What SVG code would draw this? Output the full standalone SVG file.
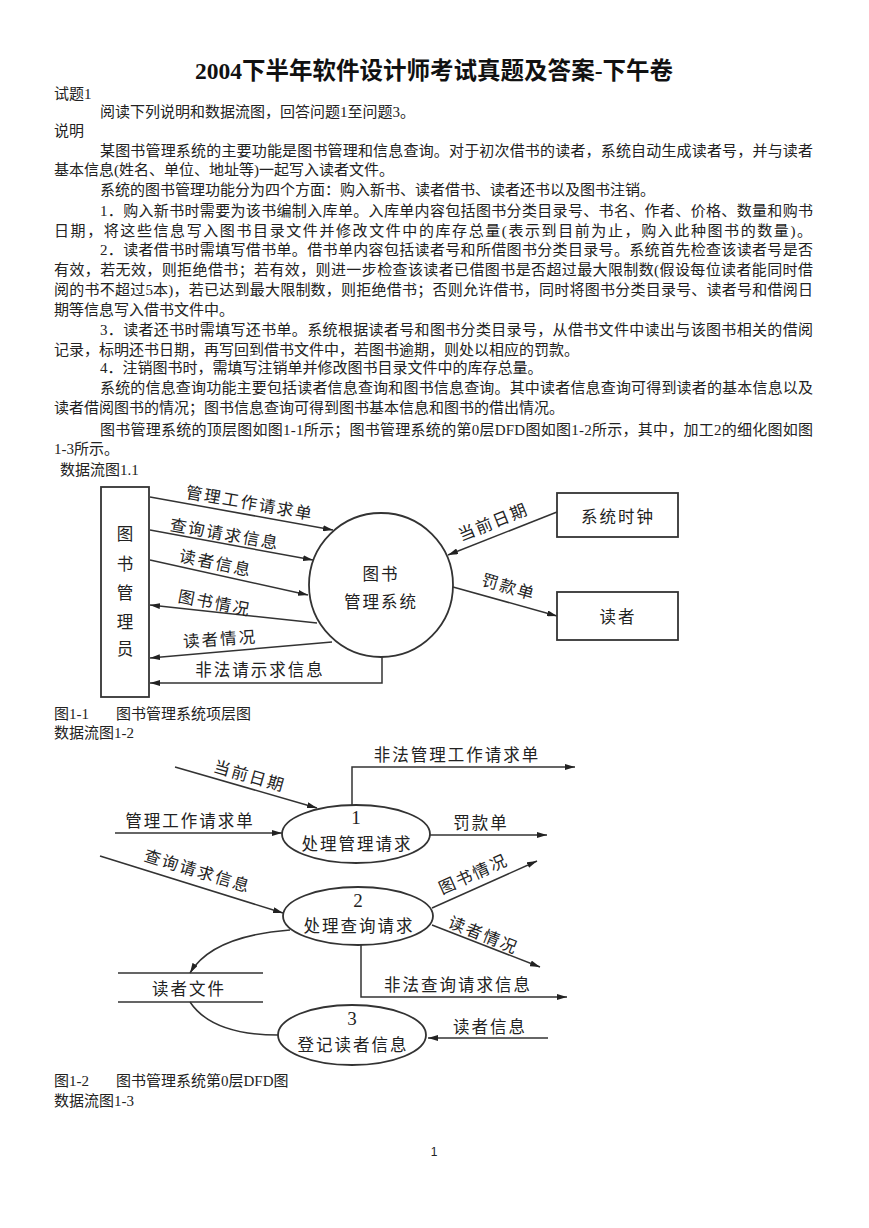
<svg xmlns="http://www.w3.org/2000/svg" width="869" height="1228" viewBox="0 0 869 1228">
<style>
.bg{fill:#fff}
.body{font-family:"Liberation Serif","Noto Sans CJK SC",serif;font-size:15px;fill:#222}
.title{font-family:"Liberation Serif","Noto Sans CJK SC",serif;font-size:24px;font-weight:bold;fill:#111}
.lbl{font-family:"Noto Sans CJK SC",sans-serif;font-size:16.5px;letter-spacing:2px;fill:#222;text-anchor:middle;dominant-baseline:central}
.num{font-family:"Liberation Serif",serif;font-size:19px;fill:#222;text-anchor:middle;dominant-baseline:central}
.ln{fill:none;stroke:#333;stroke-width:1.5}
.box{fill:#fff;stroke:#333;stroke-width:1.8}
.pg{font-family:"Liberation Sans",sans-serif;font-size:12px;fill:#222;text-anchor:middle}
</style>
<defs>
<marker id="ah" viewBox="0 0 10 6" refX="10" refY="3" markerWidth="10" markerHeight="6" markerUnits="userSpaceOnUse" orient="auto">
<path d="M0,0 L10,3 L0,6 z" fill="#222"/>
</marker>
</defs>
<rect class="bg" x="0" y="0" width="869" height="1228"/>

<g id="page-text">
<text class="title" x="195" y="79" textLength="478" lengthAdjust="spacingAndGlyphs">2004下半年软件设计师考试真题及答案-下午卷</text>
<text class="body" x="54" y="99">试题1</text>
<text class="body" x="100" y="117">阅读下列说明和数据流图，回答问题1至问题3。</text>
<text class="body" x="54" y="136">说明</text>
<text class="body" x="100" y="156" textLength="713" lengthAdjust="spacing">某图书管理系统的主要功能是图书管理和信息查询。对于初次借书的读者，系统自动生成读者号，并与读者</text>
<text class="body" x="54" y="175">基本信息(姓名、单位、地址等)一起写入读者文件。</text>
<text class="body" x="100" y="195">系统的图书管理功能分为四个方面：购入新书、读者借书、读者还书以及图书注销。</text>
<text class="body" x="100" y="216" textLength="713" lengthAdjust="spacing">1．购入新书时需要为该书编制入库单。入库单内容包括图书分类目录号、书名、作者、价格、数量和购书</text>
<text class="body" x="54" y="236" textLength="758" lengthAdjust="spacing">日期，将这些信息写入图书目录文件并修改文件中的库存总量(表示到目前为止，购入此种图书的数量)。</text>
<text class="body" x="100" y="255" textLength="713" lengthAdjust="spacing">2．读者借书时需填写借书单。借书单内容包括读者号和所借图书分类目录号。系统首先检查该读者号是否</text>
<text class="body" x="54" y="275" textLength="759" lengthAdjust="spacing">有效，若无效，则拒绝借书；若有效，则进一步检查该读者已借图书是否超过最大限制数(假设每位读者能同时借</text>
<text class="body" x="54" y="295" textLength="759" lengthAdjust="spacing">阅的书不超过5本)，若已达到最大限制数，则拒绝借书；否则允许借书，同时将图书分类目录号、读者号和借阅日</text>
<text class="body" x="54" y="315">期等信息写入借书文件中。</text>
<text class="body" x="100" y="335" textLength="713" lengthAdjust="spacing">3．读者还书时需填写还书单。系统根据读者号和图书分类目录号，从借书文件中读出与该图书相关的借阅</text>
<text class="body" x="54" y="355">记录，标明还书日期，再写回到借书文件中，若图书逾期，则处以相应的罚款。</text>
<text class="body" x="100" y="373">4．注销图书时，需填写注销单并修改图书目录文件中的库存总量。</text>
<text class="body" x="100" y="393" textLength="713" lengthAdjust="spacing">系统的信息查询功能主要包括读者信息查询和图书信息查询。其中读者信息查询可得到读者的基本信息以及</text>
<text class="body" x="54" y="413">读者借阅图书的情况；图书信息查询可得到图书基本信息和图书的借出情况。</text>
<text class="body" x="100" y="435" textLength="713" lengthAdjust="spacing">图书管理系统的顶层图如图1-1所示；图书管理系统的第0层DFD图如图1-2所示，其中，加工2的细化图如图</text>
<text class="body" x="54" y="454">1-3所示。</text>
<text class="body" x="60" y="475">数据流图1.1</text>
<text class="body" x="54" y="719">图1-1</text>
<text class="body" x="116" y="719">图书管理系统项层图</text>
<text class="body" x="54" y="738">数据流图1-2</text>
<text class="body" x="54" y="1086">图1-2</text>
<text class="body" x="116" y="1086">图书管理系统第0层DFD图</text>
<text class="body" x="54" y="1106">数据流图1-3</text>
<text class="pg" x="434" y="1156">1</text>
</g>

<!-- Diagram 1.1 -->
<g id="d1-connectors">
<path class="ln" d="M150,497 L333,530" marker-end="url(#ah)"/>
<path class="ln" d="M150,530 L313,560" marker-end="url(#ah)"/>
<path class="ln" d="M150,560 L308,595" marker-end="url(#ah)"/>
<path class="ln" d="M317,623 L150,605" marker-end="url(#ah)"/>
<path class="ln" d="M332,642 L150,658" marker-end="url(#ah)"/>
<path class="ln" d="M382,657 L382,683 L150,683" marker-end="url(#ah)"/>
<path class="ln" d="M557,512 L448,555" marker-end="url(#ah)"/>
<path class="ln" d="M453,587 L557,616" marker-end="url(#ah)"/>
<text class="lbl" transform="translate(250,502) rotate(10)">管理工作请求单</text>
<text class="lbl" transform="translate(225,533) rotate(10)">查询请求信息</text>
<text class="lbl" transform="translate(216,562) rotate(12)">读者信息</text>
<text class="lbl" transform="translate(215,602) rotate(11)">图书情况</text>
<text class="lbl" transform="translate(220,638) rotate(-4)">读者情况</text>
<text class="lbl" transform="translate(260,669)">非法请示求信息</text>
<text class="lbl" transform="translate(493,521) rotate(-22)">当前日期</text>
<text class="lbl" transform="translate(509,586) rotate(16)">罚款单</text>
</g>
<g id="d1-librarian">
<rect class="box" x="101" y="487" width="48" height="210"/>
<text class="lbl" x="126" y="533">图</text>
<text class="lbl" x="126" y="563">书</text>
<text class="lbl" x="126" y="592">管</text>
<text class="lbl" x="126" y="621">理</text>
<text class="lbl" x="126" y="648">员</text>
</g>
<g id="d1-system">
<circle class="box" cx="381" cy="585" r="72"/>
<text class="lbl" x="381" y="573">图书</text>
<text class="lbl" x="381" y="601">管理系统</text>
</g>
<g id="d1-clock">
<rect class="box" x="557" y="493" width="121" height="44"/>
<text class="lbl" x="618" y="516">系统时钟</text>
</g>
<g id="d1-reader">
<rect class="box" x="557" y="592" width="121" height="48"/>
<text class="lbl" x="618" y="616">读者</text>
</g>

<!-- Diagram 1-2 -->
<g id="d2-connectors">
<path class="ln" d="M175,767 L317,808" marker-end="url(#ah)"/>
<path class="ln" d="M115,833 L282,833" marker-end="url(#ah)"/>
<path class="ln" d="M100,856 L283,913" marker-end="url(#ah)"/>
<path class="ln" d="M352,805 L352,767 L575,767" marker-end="url(#ah)"/>
<path class="ln" d="M430,835 L547,835" marker-end="url(#ah)"/>
<path class="ln" d="M432,908 L537,861" marker-end="url(#ah)"/>
<path class="ln" d="M432,925 L540,967" marker-end="url(#ah)"/>
<path class="ln" d="M290,930 Q212,936 190,973" marker-end="url(#ah)"/>
<path class="ln" d="M190,1002 Q212,1035 278,1035"/>
<path class="ln" d="M361,945 L361,997 L567,997" marker-end="url(#ah)"/>
<path class="ln" d="M548,1038 L428,1038" marker-end="url(#ah)"/>
<text class="lbl" transform="translate(250,775) rotate(16)">当前日期</text>
<text class="lbl" transform="translate(190,820)">管理工作请求单</text>
<text class="lbl" transform="translate(198,870) rotate(17)">查询请求信息</text>
<text class="lbl" transform="translate(457,754)">非法管理工作请求单</text>
<text class="lbl" transform="translate(481,822)">罚款单</text>
<text class="lbl" transform="translate(473,873) rotate(-24)">图书情况</text>
<text class="lbl" transform="translate(484,934) rotate(22)">读者情况</text>
<text class="lbl" transform="translate(458,984)">非法查询请求信息</text>
<text class="lbl" transform="translate(490,1026)">读者信息</text>
</g>
<g id="d2-p1">
<ellipse class="box" cx="356" cy="834" rx="74" ry="29"/>
<text class="num" x="356" y="817">1</text>
<text class="lbl" x="357" y="843">处理管理请求</text>
</g>
<g id="d2-p2">
<ellipse class="box" cx="358" cy="916" rx="75" ry="29"/>
<text class="num" x="358" y="900">2</text>
<text class="lbl" x="359" y="925">处理查询请求</text>
</g>
<g id="d2-p3">
<ellipse class="box" cx="352" cy="1035" rx="74" ry="30"/>
<text class="num" x="352" y="1018">3</text>
<text class="lbl" x="353" y="1044">登记读者信息</text>
</g>
<g id="d2-store">
<path class="ln" d="M118,973 L263,973 M118,1002 L263,1002"/>
<text class="lbl" x="189" y="988">读者文件</text>
</g>
</svg>
